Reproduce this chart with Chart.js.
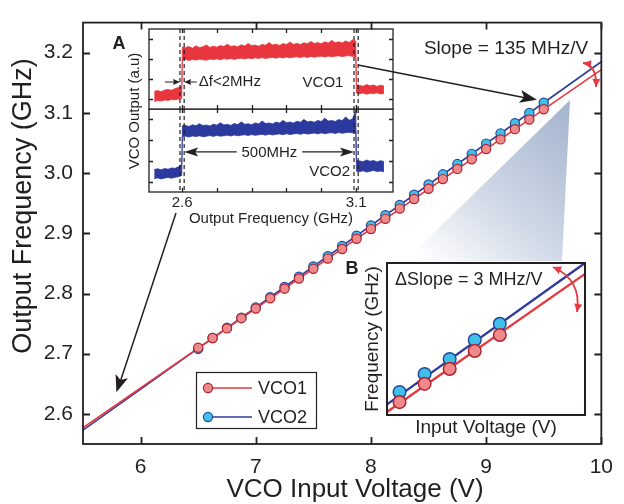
<!DOCTYPE html>
<html lang="en">
<head>
<meta charset="UTF-8">
<title>VCO tuning curves</title>
<script src="https://cdn.jsdelivr.net/npm/chart.js"></script>
<style>
  body { margin: 0; background: #fff; }
  #wrap { position: relative; width: 624px; height: 504px; }
  #wrap canvas { position: absolute; }
  #main { left: 0; top: 0; z-index: 3; pointer-events: none; }
  #specTop { left: 148px; top: 28px; z-index: 2; }
  #specBot { left: 105px; top: 25px; z-index: 1; }
  #zoomB { left: 340px; top: 250px; z-index: 1; }
</style>
</head>
<body>
<div id="wrap">
  <canvas id="specBot" width="290" height="205"></canvas>
  <canvas id="specTop" width="246" height="82"></canvas>
  <canvas id="zoomB" width="260" height="190"></canvas>
  <canvas id="main" width="624" height="504"></canvas>
</div>
<script>
// ---- tuning curve (main plot) ----
const volts = [6.5, 6.625, 6.75, 6.875, 7, 7.125, 7.25, 7.375, 7.5, 7.625, 7.75, 7.875, 8,
               8.125, 8.25, 8.375, 8.5, 8.625, 8.75, 8.875, 9, 9.125, 9.25, 9.375, 9.5];
const vco1Freq = [2.710, 2.726, 2.742, 2.759, 2.775, 2.792, 2.808, 2.825, 2.841, 2.858, 2.874, 2.891, 2.907,
                  2.924, 2.941, 2.957, 2.974, 2.990, 3.007, 3.023, 3.040, 3.056, 3.073, 3.089, 3.106];
const vco2Freq = [2.708, 2.726, 2.743, 2.760, 2.777, 2.794, 2.811, 2.828, 2.845, 2.862, 2.879, 2.896, 2.913,
                  2.930, 2.947, 2.964, 2.981, 2.998, 3.015, 3.032, 3.049, 3.066, 3.083, 3.100, 3.117];
const fitVolts = [5.5, 10];
const vco1Fit = [2.577, 3.172];
const vco2Fit = [2.573, 3.185];
const voltTicks = [6, 7, 8, 9, 10];
const freqTicks = [2.6, 2.7, 2.8, 2.9, 3.0, 3.1, 3.2];

// ---- inset A: output spectra (min / max envelope of the trace) ----
const specFreq = [2.52, 2.53, 2.54, 2.55, 2.56, 2.57, 2.58, 2.59, 2.599,
  2.601, 2.61, 2.62, 2.63, 2.64, 2.65, 2.66, 2.67, 2.68, 2.69, 2.70, 2.71, 2.72, 2.73, 2.74, 2.75,
  2.76, 2.77, 2.78, 2.79, 2.80, 2.81, 2.82, 2.83, 2.84, 2.85, 2.86, 2.87, 2.88, 2.89, 2.90, 2.91,
  2.92, 2.93, 2.94, 2.95, 2.96, 2.97, 2.98, 2.99, 3.00, 3.01, 3.02, 3.03, 3.04, 3.05, 3.06, 3.07,
  3.08, 3.09, 3.099,
  3.101, 3.11, 3.12, 3.13, 3.14, 3.15, 3.16, 3.17, 3.18];
const vco1SpecLo = [-0.12, -0.08, -0.10, -0.05, -0.07, -0.02, -0.04, 0.00, 0.02,
  1.95, 1.97, 1.93, 1.98, 1.95, 1.99, 1.96, 1.94, 2.00, 1.97, 2.01, 1.96, 2.02, 1.99, 2.03, 1.98,
  2.02, 2.04, 2.00, 2.05, 2.01, 2.06, 2.03, 2.07, 2.02, 2.06, 2.08, 2.04, 2.09, 2.05, 2.10, 2.06,
  2.09, 2.11, 2.07, 2.12, 2.08, 2.13, 2.09, 2.12, 2.14, 2.10, 2.15, 2.11, 2.14, 2.16, 2.12, 2.15,
  2.17, 2.13, 2.12,
  0.30, 0.26, 0.30, 0.24, 0.29, 0.27, 0.31, 0.25, 0.28];
const vco1SpecHi = [0.38, 0.42, 0.36, 0.45, 0.47, 0.44, 0.52, 0.58, 0.62,
  2.60, 2.58, 2.62, 2.54, 2.66, 2.57, 2.61, 2.70, 2.58, 2.64, 2.59, 2.67, 2.62, 2.74, 2.63, 2.66,
  2.61, 2.71, 2.65, 2.78, 2.66, 2.70, 2.64, 2.73, 2.69, 2.82, 2.70, 2.74, 2.68, 2.77, 2.72, 2.85,
  2.73, 2.78, 2.72, 2.81, 2.76, 2.88, 2.77, 2.82, 2.76, 2.86, 2.80, 2.93, 2.81, 2.86, 2.80, 2.90,
  2.83, 2.96, 2.90,
  0.72, 0.68, 0.64, 0.72, 0.66, 0.70, 0.63, 0.69, 0.65];
const vco2SpecLo = [0.15, 0.18, 0.13, 0.17, 0.20, 0.16, 0.21, 0.24, 0.30,
  2.17, 2.19, 2.15, 2.20, 2.17, 2.21, 2.16, 2.19, 2.22, 2.18, 2.23, 2.19, 2.21, 2.24, 2.20, 2.25,
  2.21, 2.24, 2.26, 2.22, 2.27, 2.23, 2.26, 2.28, 2.24, 2.29, 2.25, 2.28, 2.30, 2.26, 2.31, 2.27,
  2.30, 2.32, 2.28, 2.33, 2.29, 2.32, 2.34, 2.30, 2.35, 2.31, 2.34, 2.36, 2.32, 2.37, 2.33, 2.36,
  2.38, 2.35, 2.36,
  0.50, 0.48, 0.52, 0.46, 0.50, 0.54, 0.49, 0.51, 0.47];
const vco2SpecHi = [0.58, 0.62, 0.57, 0.63, 0.60, 0.66, 0.64, 0.72, 0.85,
  2.70, 2.71, 2.66, 2.74, 2.69, 2.79, 2.70, 2.73, 2.68, 2.77, 2.72, 2.84, 2.73, 2.76, 2.71, 2.80,
  2.75, 2.88, 2.76, 2.79, 2.74, 2.83, 2.78, 2.92, 2.80, 2.83, 2.78, 2.87, 2.82, 2.95, 2.84, 2.87,
  2.82, 2.91, 2.86, 3.00, 2.88, 2.91, 2.86, 2.95, 2.90, 3.06, 2.92, 2.95, 2.90, 2.99, 2.94, 3.12,
  2.96, 3.02, 3.45,
  1.02, 1.00, 0.96, 1.04, 0.98, 1.02, 0.95, 1.01, 0.97];
const bandEdges = [2.594, 2.606, 3.094, 3.106];
const specTicks = [2.6, 2.7, 2.8, 2.9, 3.0, 3.1];
const specTickLabels = ['2.6', '', '', '', '', '3.1'];
const levelTicks = [0, 1, 2, 3];

// ---- inset B: close-up of the top end ----
const bVolts = [1, 2, 3, 4, 5];
const bVco1 = [0.51, 1.23, 1.82, 2.53, 3.16];
const bVco2 = [0.91, 1.62, 2.21, 2.96, 3.60];
const bFitVolts = [0.5, 8.4];
const bVco1Fit = [0.12, 5.57];
const bVco2Fit = [0.42, 6.00];

const INK = '#231f20';
const RED = '#e5383f', RED_FILL = '#ef8a8c', RED_EDGE = '#b0232c';
const BLUE = '#2e3b9b', BLUE_FILL = '#3ec0ea', BLUE_EDGE = '#23499a';
const SPEC_RED = '#e8353e', SPEC_BLUE = '#2c3a9f';
const FONT = '"Liberation Sans", Arial, Helvetica, sans-serif';

Chart.defaults.font.family = FONT;
Chart.defaults.color = INK;

const xy = (xs, ys) => xs.map((x, i) => ({ x: x, y: ys[i] }));

function arrowHead(ctx, tx, ty, fx, fy, len, half, notch) {
  const ang = Math.atan2(ty - fy, tx - fx);
  ctx.save();
  ctx.translate(tx, ty);
  ctx.rotate(ang);
  ctx.beginPath();
  ctx.moveTo(0, 0);
  ctx.lineTo(-len, -half);
  ctx.lineTo(-len + notch, 0);
  ctx.lineTo(-len, half);
  ctx.closePath();
  ctx.fill();
  ctx.restore();
}

function bentArrow(ctx, p0, c, p1, color) {
  ctx.save();
  ctx.strokeStyle = color;
  ctx.fillStyle = color;
  ctx.lineWidth = 1.8;
  ctx.beginPath();
  ctx.moveTo(p0[0], p0[1]);
  ctx.quadraticCurveTo(c[0], c[1], p1[0], p1[1]);
  ctx.stroke();
  arrowHead(ctx, p0[0], p0[1], c[0], c[1], 8, 4, 0);
  arrowHead(ctx, p1[0], p1[1], c[0], c[1], 8, 4, 0);
  ctx.restore();
}

// box round the plot area with inward tick marks on all four sides
const frame = {
  id: 'frame',
  afterDatasetsDraw(chart, args, o) {
    const { ctx, chartArea: a, scales } = chart;
    ctx.save();
    ctx.strokeStyle = INK;
    ctx.lineWidth = o.width;
    ctx.beginPath();
    (o.xTicks || []).forEach(v => {
      const px = Math.round(scales.x.getPixelForValue(v)) + 0.5;
      ctx.moveTo(px, a.bottom); ctx.lineTo(px, a.bottom - o.len);
      ctx.moveTo(px, a.top); ctx.lineTo(px, a.top + o.len);
    });
    (o.yTicks || []).forEach(v => {
      const py = Math.round(scales.y.getPixelForValue(v)) + 0.5;
      ctx.moveTo(a.left, py); ctx.lineTo(a.left + o.len, py);
      ctx.moveTo(a.right, py); ctx.lineTo(a.right - o.len, py);
    });
    ctx.stroke();
    ctx.strokeRect(a.left, a.top, a.width, a.height);
    ctx.restore();
  }
};

const whiteArea = {
  id: 'whiteArea',
  beforeDraw(chart) {
    const { ctx, chartArea: a } = chart;
    ctx.save();
    ctx.fillStyle = '#fff';
    ctx.fillRect(a.left, a.top, a.width, a.height);
    ctx.restore();
  }
};

function edgeLines(chart) {
  const { ctx, chartArea: a, scales } = chart;
  ctx.save();
  ctx.strokeStyle = INK;
  ctx.lineWidth = 1.2;
  ctx.setLineDash([4, 3]);
  ctx.beginPath();
  bandEdges.forEach(f => {
    const px = scales.x.getPixelForValue(f);
    ctx.moveTo(px, a.top); ctx.lineTo(px, a.bottom);
  });
  ctx.stroke();
  ctx.restore();
}

const bandOpts = (lo, hi, color) => [
  { data: xy(specFreq, lo), showLine: true, borderColor: color, borderWidth: 0.8, pointRadius: 0, fill: false },
  { data: xy(specFreq, hi), showLine: true, borderColor: color, borderWidth: 0.8, pointRadius: 0,
    fill: '-1', backgroundColor: color }
];

// ---- main chart ----
const mainNotes = {
  id: 'mainNotes',
  beforeDatasetsDraw(chart) {
    const { ctx } = chart;
    ctx.save();
    // shaded wedge leading down to inset B
    const g = ctx.createLinearGradient(572, 115, 440, 275);
    g.addColorStop(0, '#a6b6cf');
    g.addColorStop(0.55, '#cfd8e6');
    g.addColorStop(1, '#ffffff');
    ctx.fillStyle = g;
    ctx.beginPath();
    ctx.moveTo(570, 100);
    ctx.lineTo(562, 261);
    ctx.lineTo(405, 261);
    ctx.closePath();
    ctx.fill();
    ctx.restore();
  },
  afterDraw(chart) {
    const { ctx, scales } = chart;
    ctx.save();
    ctx.fillStyle = INK;
    ctx.strokeStyle = INK;
    ctx.textAlign = 'center';
    ctx.textBaseline = 'middle';

    // axis titles
    ctx.font = '26px ' + FONT;
    ctx.fillText('VCO Input Voltage (V)', 355, 490);
    ctx.save();
    ctx.translate(24, 206);
    ctx.rotate(-Math.PI / 2);
    ctx.font = '27px ' + FONT;
    ctx.fillText('Output Frequency (GHz)', 0, 0);
    ctx.restore();

    ctx.font = '19px ' + FONT;
    ctx.fillText('Slope = 135 MHz/V', 506, 49);

    // pointers from inset A
    ctx.lineWidth = 1.5;
    const t1x = scales.x.getPixelForValue(9.44), t1y = scales.y.getPixelForValue(3.122);
    ctx.beginPath(); ctx.moveTo(358, 65); ctx.lineTo(t1x - 8, t1y - 1.2); ctx.stroke();
    arrowHead(ctx, t1x, t1y, 358, 65, 17, 6.5, 4);
    const t2x = scales.x.getPixelForValue(5.79), t2y = scales.y.getPixelForValue(2.636);
    ctx.beginPath(); ctx.moveTo(176, 213); ctx.lineTo(t2x + 3, t2y - 8); ctx.stroke();
    arrowHead(ctx, t2x, t2y, 176, 213, 17, 6.5, 4);

    bentArrow(ctx, [583, 63], [597, 65], [596, 87], RED);

    // legend
    ctx.fillStyle = '#fff';
    ctx.fillRect(196, 372, 120, 56);
    ctx.strokeStyle = INK;
    ctx.lineWidth = 1.2;
    ctx.strokeRect(196.5, 372.5, 120, 56);
    const rows = [['VCO1', 388, RED, RED_FILL, RED_EDGE], ['VCO2', 417, BLUE, BLUE_FILL, BLUE_EDGE]];
    rows.forEach(([name, y, line, fill, edge]) => {
      ctx.strokeStyle = line;
      ctx.lineWidth = 1.6;
      ctx.beginPath(); ctx.moveTo(212, y); ctx.lineTo(252, y); ctx.stroke();
      ctx.beginPath(); ctx.arc(208, y, 4.6, 0, Math.PI * 2);
      ctx.fillStyle = fill; ctx.fill();
      ctx.strokeStyle = edge; ctx.lineWidth = 1.2; ctx.stroke();
      ctx.fillStyle = INK;
      ctx.font = '18px ' + FONT;
      ctx.textAlign = 'left';
      ctx.fillText(name, 258, y + 1);
    });
    ctx.restore();
  }
};

const ptStyle = (fill, edge, r) => ({
  showLine: false, pointRadius: r, pointBackgroundColor: fill, pointBorderColor: edge, pointBorderWidth: 1.2
});
const lineStyle = color => ({ showLine: true, borderColor: color, borderWidth: 1.6, pointRadius: 0 });

new Chart(document.getElementById('main'), {
  type: 'scatter',
  data: {
    datasets: [
      Object.assign({ label: 'VCO1', data: xy(volts, vco1Freq) }, ptStyle(RED_FILL, RED_EDGE, 4.6)),
      Object.assign({ label: 'VCO2', data: xy(volts, vco2Freq) }, ptStyle(BLUE_FILL, BLUE_EDGE, 4.6)),
      Object.assign({ label: 'VCO1 fit', data: xy(fitVolts, vco1Fit) }, lineStyle(RED)),
      Object.assign({ label: 'VCO2 fit', data: xy(fitVolts, vco2Fit) }, lineStyle(BLUE))
    ]
  },
  options: {
    responsive: false,
    animation: false,
    layout: { padding: { top: 14, right: 13, left: 0, bottom: 0 } },
    plugins: {
      legend: { display: false },
      tooltip: { enabled: false },
      frame: { xTicks: voltTicks, yTicks: freqTicks, len: 7, width: 1.8 }
    },
    scales: {
      x: {
        type: 'linear', min: 5.5, max: 10,
        afterBuildTicks: s => { s.ticks = voltTicks.map(v => ({ value: v })); },
        afterFit: s => { s.height = 60; },
        grid: { display: false, drawTicks: false },
        border: { display: false },
        ticks: { font: { size: 21 }, padding: 11, autoSkip: false, maxRotation: 0, callback: v => String(v) }
      },
      y: {
        type: 'linear', min: 2.55, max: 3.25,
        afterBuildTicks: s => { s.ticks = freqTicks.map(v => ({ value: v })); },
        afterFit: s => { s.width = 83; },
        grid: { display: false, drawTicks: false },
        border: { display: false },
        ticks: { font: { size: 21 }, padding: 10, autoSkip: false, callback: v => v.toFixed(1) }
      }
    }
  },
  plugins: [frame, mainNotes]
});

// ---- inset A, upper panel (VCO1) ----
const topNotes = {
  id: 'topNotes',
  afterDatasetsDraw(chart) {
    const { ctx, scales } = chart;
    edgeLines(chart);
    const y = scales.y.getPixelForValue(0.85);
    const px = f => scales.x.getPixelForValue(f);
    ctx.save();
    ctx.strokeStyle = INK; ctx.fillStyle = INK; ctx.lineWidth = 1;
    ctx.beginPath(); ctx.moveTo(px(2.551), y); ctx.lineTo(px(2.594) - 3, y);
    ctx.moveTo(px(2.642), y); ctx.lineTo(px(2.606) + 3, y); ctx.stroke();
    arrowHead(ctx, px(2.594), y, px(2.551), y, 7, 3, 1);
    arrowHead(ctx, px(2.606), y, px(2.642), y, 7, 3, 1);
    ctx.font = '15px ' + FONT;
    ctx.textBaseline = 'middle';
    ctx.textAlign = 'left';
    ctx.fillText('\u0394f<2MHz', px(2.648), y);
    ctx.textAlign = 'center';
    ctx.fillText('VCO1', px(3.005), y + 1);
    ctx.restore();
  }
};

new Chart(document.getElementById('specTop'), {
  type: 'scatter',
  data: { datasets: bandOpts(vco1SpecLo, vco1SpecHi, SPEC_RED) },
  options: {
    responsive: false, animation: false,
    layout: { padding: 1 },
    plugins: { legend: { display: false }, tooltip: { enabled: false },
      frame: { xTicks: specTicks, yTicks: levelTicks, len: 4, width: 1.3 } },
    scales: {
      x: { type: 'linear', display: false, min: 2.505, max: 3.206 },
      y: { type: 'linear', display: false, min: -0.5, max: 3.5 }
    }
  },
  plugins: [whiteArea, frame, topNotes]
});

// ---- inset A, lower panel (VCO2) with shared labels ----
const botNotes = {
  id: 'botNotes',
  afterDatasetsDraw(chart) {
    const { ctx, scales } = chart;
    edgeLines(chart);
    const px = f => scales.x.getPixelForValue(f);
    const y = scales.y.getPixelForValue(1.43);
    ctx.save();
    ctx.strokeStyle = INK; ctx.fillStyle = INK; ctx.lineWidth = 1.2;
    ctx.beginPath();
    ctx.moveTo(px(2.606) + 4, y); ctx.lineTo(px(2.757), y);
    ctx.moveTo(px(2.945), y); ctx.lineTo(px(3.094) - 4, y);
    ctx.stroke();
    arrowHead(ctx, px(2.606), y, px(2.7), y, 14, 4.5, 3);
    arrowHead(ctx, px(3.094), y, px(3.0), y, 14, 4.5, 3);
    ctx.font = '15px ' + FONT;
    ctx.textAlign = 'center';
    ctx.textBaseline = 'middle';
    ctx.fillText('500MHz', px(2.851), y + 1);
    ctx.fillText('VCO2', px(3.024), scales.y.getPixelForValue(0.46));
    ctx.font = 'bold 18px ' + FONT;
    ctx.fillText('A', 14, 19);
    ctx.translate(30, 86);
    ctx.rotate(-Math.PI / 2);
    ctx.font = '15px ' + FONT;
    ctx.fillText('VCO Output (a.u)', 0, 0);
    ctx.restore();
  }
};

new Chart(document.getElementById('specBot'), {
  type: 'scatter',
  data: { datasets: bandOpts(vco2SpecLo, vco2SpecHi, SPEC_BLUE) },
  options: {
    responsive: false, animation: false,
    layout: { padding: { left: 44, top: 84, right: 2, bottom: 0 } },
    plugins: { legend: { display: false }, tooltip: { enabled: false },
      frame: { xTicks: specTicks, yTicks: levelTicks, len: 4, width: 1.3 } },
    scales: {
      x: {
        type: 'linear', min: 2.505, max: 3.206,
        afterBuildTicks: s => { s.ticks = specTicks.map(v => ({ value: v })); },
        afterFit: s => { s.height = 38; },
        grid: { display: false, drawTicks: false },
        border: { display: false },
        ticks: { font: { size: 15 }, padding: 2, autoSkip: false, maxRotation: 0,
                 callback: (v, i) => specTickLabels[i] },
        title: { display: true, text: 'Output Frequency (GHz)', font: { size: 15 }, padding: { top: 0, bottom: 2 } }
      },
      y: { type: 'linear', display: false, min: -0.5, max: 3.5 }
    }
  },
  plugins: [whiteArea, frame, botNotes]
});

// ---- inset B ----
const bNotes = {
  id: 'bNotes',
  afterDatasetsDraw(chart) {
    const { ctx, chartArea: a } = chart;
    ctx.save();
    ctx.fillStyle = INK;
    ctx.textBaseline = 'middle';
    ctx.textAlign = 'left';
    ctx.font = '18px ' + FONT;
    ctx.fillText('\u0394Slope = 3 MHz/V', a.left + 8, a.top + 17);
    ctx.font = 'bold 18px ' + FONT;
    ctx.textAlign = 'center';
    ctx.fillText('B', 12, 19);
    bentArrow(ctx, [213, 17], [242, 30], [237, 62], RED);
    ctx.restore();
  }
};

new Chart(document.getElementById('zoomB'), {
  type: 'scatter',
  data: {
    datasets: [
      Object.assign({ data: xy(bVolts, bVco1) }, ptStyle(RED_FILL, RED_EDGE, 6.3), { pointBorderWidth: 1.5 }),
      Object.assign({ data: xy(bVolts, bVco2) }, ptStyle(BLUE_FILL, BLUE_EDGE, 6.3), { pointBorderWidth: 1.5 }),
      Object.assign({ data: xy(bFitVolts, bVco1Fit) }, lineStyle(RED), { borderWidth: 2.4 }),
      Object.assign({ data: xy(bFitVolts, bVco2Fit) }, lineStyle(BLUE), { borderWidth: 2.4 })
    ]
  },
  options: {
    responsive: false, animation: false,
    layout: { padding: { left: 0, top: 13, right: 15, bottom: 0 } },
    plugins: { legend: { display: false }, tooltip: { enabled: false },
      frame: { len: 0, width: 2 } },
    scales: {
      x: {
        type: 'linear', min: 0.5, max: 8.4,
        afterFit: s => { s.height = 25; },
        grid: { display: false, drawTicks: false }, border: { display: false },
        ticks: { display: false },
        title: { display: true, text: 'Input Voltage (V)', font: { size: 19 }, padding: { top: 0, bottom: 1 } }
      },
      y: {
        type: 'linear', min: 0, max: 6,
        afterFit: s => { s.width = 47; },
        grid: { display: false, drawTicks: false }, border: { display: false },
        ticks: { display: false },
        title: { display: true, text: 'Frequency (GHz)', font: { size: 19 }, padding: { top: 21, bottom: 0 } }
      }
    }
  },
  plugins: [whiteArea, frame, bNotes]
});
</script>
</body>
</html>
